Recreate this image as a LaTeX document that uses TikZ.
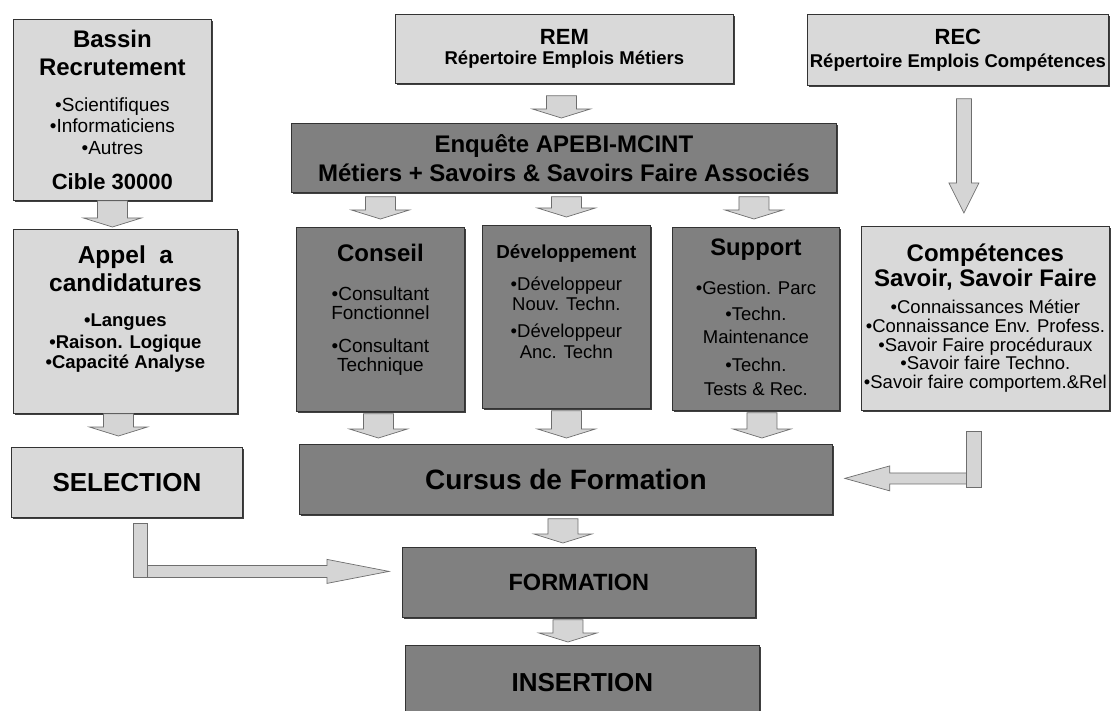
\documentclass[tikz,border=0pt]{standalone}
\usepackage{fontspec}
\setmainfont{Liberation Sans}
\usetikzlibrary{calc,shadows}
\definecolor{lightbox}{HTML}{D9D9D9}
\definecolor{darkbox}{HTML}{808080}
\definecolor{arrowfill}{HTML}{D5D5D5}
\definecolor{arrowline}{HTML}{6E6E6E}
\newcommand\fs[2]{\fontsize{#1}{#2}\selectfont}
\newcommand\hd[2]{{\bfseries\fs{#1}{#1}#2}}
\newcommand\dropby[1]{\rule[-#1]{0pt}{#1}}
\newcommand\blockdownx[5]{%
  \path[blockarrow] let \p1=#4, \p2=#5 in
    (\x1-#1pt,\y1) -- (\x1+#1pt,\y1) -- (\x1+#1pt,\y2+#3pt) -- (\x1+#2pt,\y2+#3pt)
    -- (\x1,\y2) -- (\x1-#2pt,\y2+#3pt) -- (\x1-#1pt,\y2+#3pt) -- cycle;}
\newcommand\blockdown[2]{\blockdownx{15}{29}{9}{#1}{#2}}

\begin{document}
\begin{tikzpicture}[x=1pt,y=-1pt,
  lbox/.style={draw=black!80,line width=0.8pt,fill=lightbox,inner sep=0pt,align=center,anchor=north west,
    drop shadow={shadow xshift=1.8pt,shadow yshift=-1.8pt,fill=black!75,opacity=1}},
  dbox/.style={lbox,fill=darkbox},
  blockarrow/.style={fill=arrowfill,draw=arrowline,line width=0.7pt}
]
\path[use as bounding box,fill=white] (0,0) rectangle (1114,711);

\node[lbox,minimum width=198pt,minimum height=181pt,font=\fs{19}{21.5}] (bassin) at (13,19)
  {\hd{24}{Bassin}\\[6.5pt]\hd{24}{Recrutement}\\[14.5pt]•Scientifiques\\•Informaticiens\\•Autres\\[13.5pt]\hd{22}{Cible 30000}};
\node[lbox,minimum width=338pt,minimum height=69pt,font=\bfseries\fs{18.5}{20}] (rem) at (395,14)
  {\hd{22}{REM}\\Répertoire Emplois Métiers};
\node[lbox,minimum width=301pt,minimum height=71pt,font=\bfseries\fs{18.5}{23}] (rec) at (807,14)
  {\hd{22}{REC}\\Répertoire Emplois Compétences};
\node[dbox,minimum width=545pt,minimum height=69pt,font=\bfseries\fs{24}{29}] (enquete) at (291,123)
  {Enquête APEBI-MCINT\\Métiers + Savoirs \& Savoirs Faire Associés};
\node[dbox,minimum width=168pt,minimum height=184pt,font=\fs{19}{19}] (conseil) at (296,227)
  {\hd{24}{Conseil}\\[20pt]•Consultant\\Fonctionnel\\[14pt]•Consultant\\Technique\dropby{22.5pt}};
\node[dbox,minimum width=168pt,minimum height=183pt,font=\fs{18.5}{20.5}] (dev) at (482,225)
  {\hd{18.8}{Développement}\\[11.5pt]•Développeur\\Nouv. Techn.\\[6.5pt]•Développeur\\Anc. Techn\dropby{31pt}};
\node[dbox,minimum width=167pt,minimum height=183pt,font=\fs{18.5}{23.5}] (support) at (672,227)
  {\hd{23.8}{Support}\\[15.5pt]•Gestion. Parc\\[2.5pt]•Techn.\\Maintenance\\[4.5pt]•Techn.\\Tests \& Rec.\dropby{4pt}};
\node[lbox,minimum width=248pt,minimum height=184pt,font=\fs{18.5}{25}] (competences) at (861,226)
  {\hd{24}{Compétences}\\\hd{24}{Savoir, Savoir Faire}\\[2pt]•Connaissances Métier\\[-6.3pt]•Connaissance Env. Profess.\\[-6.3pt]•Savoir Faire procéduraux\\[-6.3pt]•Savoir faire Techno.\\[-6.3pt]•Savoir faire comportem.\&Rel};
\node[lbox,minimum width=224pt,minimum height=184pt,font=\bfseries\fs{18.5}{28}] (appel) at (13,229)
  {\hd{24.5}{Appel\ \ a}\\\hd{24.5}{candidatures}\\[7pt]•Langues\\[-6pt]•Raison. Logique\\[-8pt]•Capacité Analyse\dropby{29pt}};
\node[lbox,minimum width=231pt,minimum height=70pt,font=\bfseries\fs{26}{26}] (selection) at (11,447) {SELECTION};
\node[dbox,minimum width=533pt,minimum height=70pt,font=\bfseries\fs{28}{28}] (cursus) at (299,444) {Cursus de Formation};
\node[dbox,minimum width=353pt,minimum height=70pt,font=\bfseries\fs{23.5}{24}] (formation) at (402,547) {FORMATION};
\node[dbox,minimum width=354pt,minimum height=75pt,font=\bfseries\fs{26}{26}] (insertion) at (405,645) {INSERTION};

\blockdown{(bassin.south)}{($(appel.north)+(0,-2)$)}
\blockdown{($(appel.south)+(-7,0)$)}{($(selection.north)+(0,-11)$)}
\blockdown{($(rem.south)+(-3,12)$)}{($(enquete.north)+(0,-5)$)}
\foreach \b/\dx in {conseil/0,dev/0,support/-2}
  {\blockdown{($(\b.north |- enquete.south)+(\dx,4)$)}{($(\b.north)+(0,-8)$)}}
\foreach \b/\dx in {conseil/-2,dev/0,support/6}
  {\blockdown{($(\b.south)+(\dx,2)$)}{($(cursus.north)+(0,-6)$)}}
\blockdown{($(cursus.south)+(-3,4)$)}{($(formation.north)+(0,-4)$)}
\blockdown{($(formation.south)+(-11,2)$)}{($(insertion.north)+(0,-3)$)}
\blockdownx{7.5}{15}{30}{($(rec.south)+(6,13)$)}{($(competences.north)+(0,-13)$)}

\path[blockarrow] let \p1=($(selection.south)+(20.5,0)$), \p2=($(formation.west)+(-13,-11)$) in
  (\x1,\y2+6pt) -- (\x2-62pt,\y2+6pt) -- (\x2-62pt,\y2+12pt) -- (\x2,\y2)
  -- (\x2-62pt,\y2-12pt) -- (\x2-62pt,\y2-6pt) -- (\x1,\y2-6pt) -- cycle;
\path[blockarrow] ($(selection.south)+(6.5,6)$) rectangle ++(14,54);
\path[blockarrow] let \p1=($(competences.south)+(-19,0)$), \p2=($(cursus.east)+(12,-1)$) in
  (\x1,\y2+5.5pt) -- (\x2+45pt,\y2+5.5pt) -- (\x2+45pt,\y2+12.5pt) -- (\x2,\y2)
  -- (\x2+45pt,\y2-12.5pt) -- (\x2+45pt,\y2-5.5pt) -- (\x1,\y2-5.5pt) -- cycle;
\path[blockarrow] ($(competences.south)+(-19,21)$) rectangle ++(15,56);
\end{tikzpicture}
\end{document}
